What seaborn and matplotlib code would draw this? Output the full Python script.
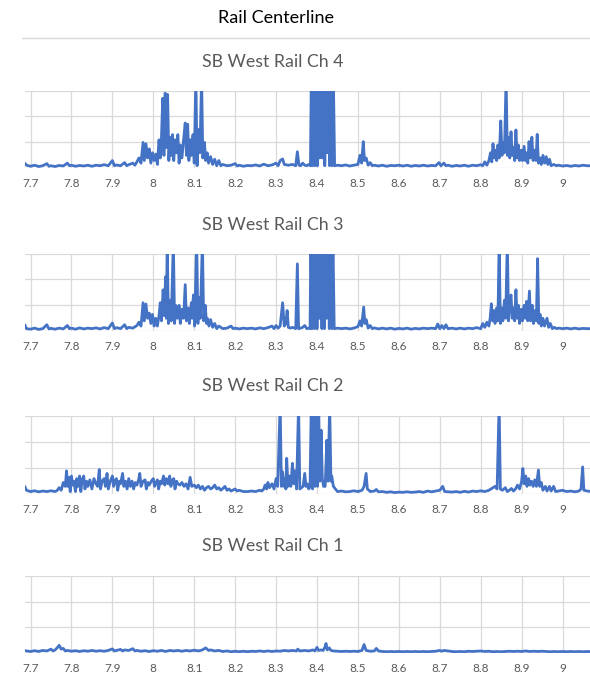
import matplotlib
matplotlib.use("Agg")
import matplotlib.pyplot as plt
import pandas as pd
import seaborn as sns
from matplotlib.lines import Line2D

sns.set_style("white")
plt.rcParams["font.family"] = ["Lato", "DejaVu Sans"]

LINE = "#4472C4"
GRID = "#D9D9D9"
GREY = "#595959"

chart_title = "Rail Centerline"
panel_titles = ["SB West Rail Ch 4", "SB West Rail Ch 3", "SB West Rail Ch 2", "SB West Rail Ch 1"]
tick_pos = [7.7, 7.8, 7.9, 8.0, 8.1, 8.2, 8.3, 8.4, 8.5, 8.6, 8.7, 8.8, 8.9, 9.0]
tick_labels = ["7.7", "7.8", "7.9", "8", "8.1", "8.2", "8.3", "8.4", "8.5", "8.6", "8.7", "8.8", "8.9", "9"]

# (milepost, reading) pairs; 3.5 = clipped above the axis top
ch4 = [
    (7.686, 0.2), (7.69, 0.12), (7.70, 0.08), (7.71, 0.12), (7.72, 0.07), (7.73, 0.1), (7.74, 0.18),
    (7.745, 0.08), (7.75, 0.1), (7.76, 0.07), (7.77, 0.11), (7.78, 0.09), (7.79, 0.2), (7.795, 0.1),
    (7.80, 0.12), (7.81, 0.08), (7.82, 0.11), (7.83, 0.09), (7.84, 0.12), (7.85, 0.08), (7.86, 0.12),
    (7.87, 0.1), (7.88, 0.14), (7.89, 0.1), (7.90, 0.3), (7.905, 0.1), (7.91, 0.13), (7.92, 0.1),
    (7.93, 0.22), (7.935, 0.1), (7.94, 0.14), (7.95, 0.2), (7.955, 0.12), (7.96, 0.25), (7.965, 0.4),
    (7.97, 0.2), (7.975, 1.0), (7.978, 0.3), (7.982, 0.95), (7.986, 0.4), (7.99, 0.75), (7.994, 0.2),
    (7.998, 0.6), (8.002, 0.3), (8.006, 0.55), (8.01, 0.15), (8.014, 1.1), (8.017, 0.4), (8.02, 1.2),
    (8.023, 2.7), (8.026, 0.5), (8.029, 2.9), (8.032, 0.8), (8.035, 2.85), (8.038, 0.3), (8.041, 1.2),
    (8.044, 0.5), (8.047, 1.3), (8.05, 0.3), (8.053, 1.1), (8.056, 0.6), (8.06, 1.3), (8.063, 0.2),
    (8.066, 0.9), (8.07, 0.4), (8.074, 1.1), (8.078, 1.75), (8.081, 0.5), (8.084, 1.7), (8.087, 0.3),
    (8.09, 1.1), (8.093, 0.5), (8.097, 1.3), (8.10, 0.2), (8.104, 3.5), (8.107, 0.1), (8.111, 1.5),
    (8.114, 0.6), (8.118, 3.5), (8.121, 0.4), (8.125, 1.0), (8.128, 0.3), (8.132, 0.6), (8.135, 0.2),
    (8.14, 0.45), (8.145, 0.15), (8.15, 0.35), (8.155, 0.1), (8.16, 0.3), (8.165, 0.1), (8.17, 0.15),
    (8.18, 0.1), (8.19, 0.12), (8.20, 0.18), (8.205, 0.09), (8.21, 0.12), (8.22, 0.08), (8.23, 0.11),
    (8.24, 0.1), (8.25, 0.13), (8.26, 0.09), (8.27, 0.16), (8.28, 0.1), (8.29, 0.13), (8.30, 0.2),
    (8.305, 0.1), (8.31, 0.3), (8.316, 0.36), (8.32, 0.15), (8.33, 0.12), (8.34, 0.15), (8.348, 0.1),
    (8.352, 0.64), (8.356, 0.12), (8.36, 0.1), (8.365, 0.2), (8.37, 0.12), (8.375, 0.1), (8.38, 0.15),
    (8.384, 0.1), (8.386, 3.5), (8.389, 0.1), (8.392, 3.5), (8.395, 0.1), (8.398, 3.5), (8.401, 0.1),
    (8.404, 3.5), (8.407, 0.4), (8.41, 3.5), (8.413, 0.4), (8.416, 3.5), (8.419, 0.1), (8.422, 3.5),
    (8.425, 0.6), (8.428, 3.5), (8.431, 0.1), (8.434, 3.5), (8.437, 0.1), (8.44, 3.5), (8.443, 0.1),
    (8.45, 0.12), (8.46, 0.1), (8.47, 0.13), (8.48, 0.09), (8.49, 0.12), (8.50, 0.15), (8.505, 0.5),
    (8.509, 0.2), (8.513, 1.03), (8.516, 0.3), (8.52, 0.4), (8.525, 0.12), (8.53, 0.22), (8.535, 0.1),
    (8.54, 0.12), (8.55, 0.09), (8.56, 0.12), (8.57, 0.08), (8.58, 0.11), (8.59, 0.1), (8.60, 0.12),
    (8.61, 0.09), (8.62, 0.12), (8.63, 0.08), (8.64, 0.11), (8.65, 0.09), (8.66, 0.12), (8.67, 0.09),
    (8.68, 0.11), (8.69, 0.1), (8.698, 0.22), (8.703, 0.1), (8.71, 0.2), (8.715, 0.1), (8.72, 0.12),
    (8.73, 0.08), (8.74, 0.11), (8.75, 0.09), (8.76, 0.12), (8.77, 0.08), (8.78, 0.12), (8.79, 0.1),
    (8.80, 0.14), (8.805, 0.1), (8.81, 0.25), (8.815, 0.12), (8.82, 0.3), (8.824, 0.6), (8.827, 0.25),
    (8.83, 0.95), (8.833, 0.4), (8.836, 0.7), (8.839, 0.3), (8.842, 0.9), (8.845, 0.4), (8.849, 1.83),
    (8.852, 0.5), (8.855, 1.0), (8.858, 0.6), (8.862, 3.5), (8.865, 0.5), (8.868, 1.2), (8.871, 0.4),
    (8.874, 1.41), (8.877, 0.5), (8.88, 0.8), (8.883, 0.3), (8.886, 1.48), (8.889, 0.4), (8.892, 0.9),
    (8.895, 0.3), (8.899, 0.7), (8.902, 0.3), (8.906, 0.85), (8.909, 0.3), (8.912, 0.6), (8.915, 0.2),
    (8.918, 1.03), (8.921, 0.4), (8.925, 1.2), (8.928, 0.3), (8.932, 0.7), (8.935, 0.3), (8.938, 1.31),
    (8.941, 0.2), (8.945, 0.4), (8.948, 0.15), (8.952, 0.5), (8.956, 0.2), (8.96, 0.45), (8.964, 0.15),
    (8.968, 0.35), (8.972, 0.1), (8.978, 0.15), (8.985, 0.1), (8.99, 0.12), (9.00, 0.09), (9.01, 0.11),
    (9.02, 0.08), (9.03, 0.11), (9.04, 0.09), (9.05, 0.12), (9.06, 0.1), (9.07, 0.1),
]

ch3 = [
    (7.686, 0.25), (7.69, 0.1), (7.70, 0.08), (7.71, 0.12), (7.72, 0.07), (7.73, 0.1), (7.74, 0.25),
    (7.745, 0.09), (7.75, 0.11), (7.76, 0.08), (7.77, 0.12), (7.78, 0.09), (7.79, 0.22), (7.795, 0.1),
    (7.80, 0.12), (7.81, 0.08), (7.82, 0.13), (7.83, 0.09), (7.84, 0.12), (7.85, 0.1), (7.86, 0.13),
    (7.87, 0.09), (7.88, 0.14), (7.89, 0.1), (7.90, 0.32), (7.905, 0.1), (7.91, 0.14), (7.92, 0.1),
    (7.93, 0.25), (7.935, 0.1), (7.94, 0.15), (7.95, 0.12), (7.96, 0.22), (7.965, 0.35), (7.97, 0.2),
    (7.975, 1.1), (7.978, 0.4), (7.982, 1.05), (7.986, 0.5), (7.99, 0.7), (7.994, 0.3), (7.998, 0.65),
    (8.002, 0.2), (8.006, 0.5), (8.01, 0.2), (8.014, 0.6), (8.017, 1.1), (8.02, 0.4), (8.024, 1.6),
    (8.027, 0.6), (8.03, 2.1), (8.032, 0.5), (8.034, 3.5), (8.037, 0.3), (8.04, 1.2), (8.044, 0.4),
    (8.049, 3.5), (8.052, 0.3), (8.055, 1.0), (8.059, 0.5), (8.063, 1.0), (8.066, 0.3), (8.07, 0.85),
    (8.074, 0.5), (8.078, 1.8), (8.081, 0.4), (8.085, 0.9), (8.088, 0.3), (8.093, 1.1), (8.095, 0.5),
    (8.098, 1.4), (8.101, 0.2), (8.106, 3.5), (8.109, 0.3), (8.112, 1.3), (8.115, 0.5), (8.12, 3.5),
    (8.123, 0.4), (8.127, 1.0), (8.13, 0.3), (8.132, 0.5), (8.136, 0.2), (8.14, 0.45), (8.145, 0.15),
    (8.15, 0.3), (8.155, 0.1), (8.16, 0.2), (8.17, 0.1), (8.18, 0.12), (8.19, 0.2), (8.195, 0.1),
    (8.20, 0.12), (8.21, 0.09), (8.22, 0.12), (8.23, 0.1), (8.24, 0.12), (8.25, 0.09), (8.26, 0.13),
    (8.27, 0.1), (8.28, 0.14), (8.29, 0.2), (8.295, 0.1), (8.30, 0.22), (8.305, 0.12), (8.31, 0.2),
    (8.316, 1.1), (8.32, 0.2), (8.324, 0.3), (8.327, 0.8), (8.33, 0.15), (8.335, 0.12), (8.34, 0.15),
    (8.348, 0.1), (8.352, 2.6), (8.355, 0.1), (8.36, 0.12), (8.365, 0.15), (8.37, 0.22), (8.375, 0.1),
    (8.38, 0.12), (8.383, 0.1), (8.385, 3.5), (8.388, 0.1), (8.391, 3.5), (8.394, 0.1), (8.397, 3.5),
    (8.40, 0.1), (8.403, 3.5), (8.406, 0.5), (8.409, 3.5), (8.412, 0.1), (8.415, 3.5), (8.418, 0.1),
    (8.421, 3.5), (8.424, 0.5), (8.427, 3.5), (8.43, 0.1), (8.433, 3.5), (8.436, 0.1), (8.439, 3.5),
    (8.442, 0.1), (8.45, 0.12), (8.46, 0.1), (8.47, 0.12), (8.48, 0.09), (8.49, 0.12), (8.50, 0.18),
    (8.505, 0.4), (8.509, 0.2), (8.514, 0.93), (8.517, 0.3), (8.52, 0.45), (8.525, 0.12), (8.53, 0.22),
    (8.535, 0.1), (8.54, 0.13), (8.55, 0.09), (8.56, 0.12), (8.57, 0.09), (8.58, 0.12), (8.59, 0.08),
    (8.60, 0.11), (8.61, 0.09), (8.62, 0.12), (8.63, 0.08), (8.64, 0.11), (8.65, 0.09), (8.66, 0.12),
    (8.67, 0.1), (8.68, 0.12), (8.69, 0.1), (8.695, 0.28), (8.70, 0.1), (8.705, 0.22), (8.71, 0.1),
    (8.715, 0.25), (8.72, 0.1), (8.73, 0.12), (8.74, 0.09), (8.75, 0.12), (8.76, 0.09), (8.77, 0.12),
    (8.78, 0.1), (8.79, 0.14), (8.80, 0.1), (8.805, 0.3), (8.81, 0.15), (8.815, 0.35), (8.82, 0.2),
    (8.823, 0.5), (8.826, 1.06), (8.829, 0.4), (8.832, 0.8), (8.835, 0.3), (8.839, 0.9), (8.842, 0.4),
    (8.845, 3.5), (8.848, 0.3), (8.851, 0.9), (8.854, 0.4), (8.858, 1.2), (8.861, 0.5), (8.865, 3.5),
    (8.868, 0.4), (8.871, 1.1), (8.874, 1.4), (8.877, 0.5), (8.88, 0.9), (8.883, 0.4), (8.886, 1.6),
    (8.889, 0.5), (8.892, 1.0), (8.895, 0.3), (8.899, 0.85), (8.902, 0.4), (8.906, 1.0), (8.909, 0.5),
    (8.912, 1.15), (8.915, 0.4), (8.919, 1.55), (8.922, 0.4), (8.926, 1.0), (8.929, 0.3), (8.933, 0.8),
    (8.936, 0.4), (8.939, 2.8), (8.942, 0.3), (8.945, 0.65), (8.948, 0.2), (8.952, 0.5), (8.956, 0.2),
    (8.962, 0.5), (8.966, 0.15), (8.97, 0.3), (8.975, 0.1), (8.98, 0.15), (8.985, 0.1), (8.99, 0.12),
    (9.00, 0.1), (9.01, 0.12), (9.02, 0.09), (9.03, 0.12), (9.04, 0.09), (9.05, 0.11), (9.06, 0.1),
    (9.07, 0.1),
]

ch2 = [
    (7.686, 0.3), (7.69, 0.15), (7.70, 0.1), (7.71, 0.13), (7.72, 0.09), (7.73, 0.12), (7.74, 0.1),
    (7.75, 0.13), (7.76, 0.1), (7.765, 0.14), (7.77, 0.25), (7.775, 0.15), (7.78, 0.45), (7.785, 0.3),
    (7.788, 0.9), (7.791, 0.3), (7.794, 0.65), (7.797, 0.1), (7.80, 0.7), (7.803, 0.35), (7.806, 0.5),
    (7.81, 0.1), (7.813, 0.6), (7.816, 0.3), (7.82, 0.7), (7.823, 0.1), (7.826, 0.55), (7.83, 0.7),
    (7.833, 0.2), (7.837, 0.5), (7.84, 0.3), (7.845, 0.55), (7.85, 0.2), (7.855, 0.6), (7.86, 0.4),
    (7.864, 0.3), (7.868, 0.95), (7.871, 0.2), (7.875, 0.5), (7.88, 0.6), (7.883, 0.3), (7.887, 0.8),
    (7.89, 0.2), (7.895, 0.5), (7.90, 0.7), (7.903, 0.3), (7.907, 0.55), (7.91, 0.6), (7.913, 0.15),
    (7.917, 0.5), (7.92, 0.4), (7.925, 0.8), (7.928, 0.3), (7.932, 0.5), (7.936, 0.2), (7.94, 0.6),
    (7.944, 0.3), (7.948, 0.5), (7.952, 0.2), (7.956, 0.45), (7.96, 0.35), (7.964, 0.55), (7.967, 0.8),
    (7.97, 0.3), (7.975, 0.5), (7.98, 0.55), (7.983, 0.2), (7.987, 0.45), (7.99, 0.35), (7.995, 0.5),
    (8.00, 0.6), (8.003, 0.3), (8.007, 0.45), (8.01, 0.55), (8.013, 0.2), (8.017, 0.5), (8.02, 0.4),
    (8.025, 0.7), (8.028, 0.35), (8.032, 0.6), (8.036, 0.4), (8.04, 0.7), (8.043, 0.3), (8.047, 0.55),
    (8.05, 0.6), (8.053, 0.2), (8.057, 0.5), (8.06, 0.4), (8.065, 0.35), (8.07, 0.45), (8.075, 0.3),
    (8.08, 0.4), (8.085, 0.2), (8.09, 0.65), (8.094, 0.3), (8.10, 0.35), (8.105, 0.25), (8.11, 0.35),
    (8.115, 0.2), (8.12, 0.3), (8.125, 0.15), (8.13, 0.25), (8.135, 0.3), (8.14, 0.2), (8.145, 0.25),
    (8.15, 0.35), (8.155, 0.2), (8.16, 0.25), (8.165, 0.15), (8.17, 0.22), (8.175, 0.3), (8.18, 0.15),
    (8.185, 0.2), (8.19, 0.12), (8.20, 0.2), (8.205, 0.12), (8.21, 0.15), (8.22, 0.1), (8.23, 0.1),
    (8.24, 0.12), (8.25, 0.1), (8.26, 0.15), (8.265, 0.12), (8.27, 0.2), (8.273, 0.35), (8.277, 0.2),
    (8.28, 0.45), (8.284, 0.25), (8.29, 0.4), (8.295, 0.2), (8.30, 0.6), (8.304, 0.3), (8.31, 3.5),
    (8.313, 0.3), (8.316, 0.86), (8.319, 0.3), (8.322, 0.6), (8.324, 0.2), (8.326, 1.38), (8.329, 0.3),
    (8.333, 0.7), (8.336, 0.3), (8.34, 1.19), (8.343, 0.4), (8.346, 0.9), (8.35, 0.2), (8.355, 3.5),
    (8.358, 0.2), (8.362, 0.25), (8.366, 0.3), (8.37, 0.8), (8.373, 0.3), (8.376, 0.4), (8.38, 0.2),
    (8.383, 0.3), (8.386, 3.5), (8.389, 0.2), (8.392, 3.5), (8.395, 0.3), (8.398, 3.5), (8.401, 0.3),
    (8.404, 3.5), (8.407, 0.5), (8.41, 2.47), (8.413, 0.6), (8.416, 0.3), (8.42, 0.3), (8.424, 2.08),
    (8.427, 0.5), (8.431, 3.5), (8.434, 0.5), (8.436, 0.7), (8.44, 0.3), (8.445, 0.2), (8.45, 0.1),
    (8.46, 0.12), (8.47, 0.09), (8.48, 0.1), (8.49, 0.13), (8.50, 0.1), (8.51, 0.15), (8.515, 0.3),
    (8.52, 0.8), (8.523, 0.2), (8.527, 0.15), (8.53, 0.1), (8.54, 0.12), (8.545, 0.18), (8.55, 0.09),
    (8.56, 0.1), (8.57, 0.07), (8.58, 0.09), (8.59, 0.06), (8.60, 0.08), (8.61, 0.07), (8.62, 0.09),
    (8.63, 0.07), (8.64, 0.08), (8.65, 0.1), (8.66, 0.07), (8.67, 0.12), (8.68, 0.09), (8.69, 0.12),
    (8.70, 0.15), (8.707, 0.3), (8.712, 0.1), (8.72, 0.09), (8.73, 0.08), (8.74, 0.1), (8.75, 0.07),
    (8.76, 0.11), (8.77, 0.08), (8.78, 0.12), (8.79, 0.1), (8.80, 0.13), (8.81, 0.1), (8.82, 0.15),
    (8.83, 0.25), (8.835, 0.3), (8.84, 0.2), (8.845, 3.5), (8.848, 0.2), (8.853, 0.15), (8.86, 0.25),
    (8.865, 0.1), (8.87, 0.15), (8.875, 0.22), (8.88, 0.12), (8.885, 0.2), (8.89, 0.35), (8.895, 0.2),
    (8.90, 0.5), (8.903, 0.99), (8.906, 0.4), (8.91, 0.7), (8.913, 0.3), (8.917, 0.6), (8.92, 0.35),
    (8.924, 0.5), (8.928, 0.3), (8.932, 0.55), (8.936, 0.3), (8.941, 0.93), (8.944, 0.3), (8.948, 0.45),
    (8.952, 0.15), (8.958, 0.3), (8.962, 0.12), (8.968, 0.3), (8.972, 0.12), (8.978, 0.3), (8.983, 0.1),
    (8.99, 0.12), (9.00, 0.15), (9.01, 0.1), (9.02, 0.12), (9.03, 0.09), (9.04, 0.12), (9.045, 0.2),
    (9.049, 1.05), (9.052, 0.15), (9.06, 0.12), (9.07, 0.1),
]

ch1 = [
    (7.686, 0.1), (7.69, 0.08), (7.70, 0.06), (7.71, 0.09), (7.72, 0.06), (7.73, 0.1), (7.74, 0.08),
    (7.75, 0.15), (7.755, 0.08), (7.76, 0.12), (7.765, 0.2), (7.77, 0.3), (7.775, 0.15), (7.78, 0.18),
    (7.785, 0.08), (7.79, 0.1), (7.80, 0.07), (7.81, 0.09), (7.82, 0.06), (7.83, 0.09), (7.84, 0.07),
    (7.85, 0.1), (7.86, 0.07), (7.87, 0.09), (7.88, 0.07), (7.89, 0.1), (7.90, 0.16), (7.905, 0.08),
    (7.91, 0.1), (7.92, 0.14), (7.925, 0.08), (7.93, 0.12), (7.94, 0.1), (7.95, 0.17), (7.955, 0.08),
    (7.96, 0.1), (7.97, 0.07), (7.98, 0.09), (7.99, 0.06), (8.00, 0.09), (8.01, 0.07), (8.02, 0.1),
    (8.03, 0.06), (8.04, 0.1), (8.05, 0.08), (8.06, 0.1), (8.07, 0.07), (8.08, 0.1), (8.09, 0.08),
    (8.10, 0.11), (8.11, 0.08), (8.12, 0.12), (8.128, 0.2), (8.135, 0.1), (8.14, 0.12), (8.15, 0.08),
    (8.16, 0.1), (8.17, 0.06), (8.18, 0.08), (8.19, 0.05), (8.20, 0.07), (8.21, 0.05), (8.22, 0.07),
    (8.23, 0.05), (8.24, 0.07), (8.25, 0.06), (8.26, 0.08), (8.27, 0.06), (8.28, 0.08), (8.29, 0.06),
    (8.30, 0.08), (8.31, 0.07), (8.32, 0.1), (8.33, 0.08), (8.34, 0.1), (8.35, 0.08), (8.353, 0.15),
    (8.358, 0.08), (8.37, 0.1), (8.38, 0.08), (8.39, 0.12), (8.395, 0.08), (8.40, 0.22), (8.404, 0.1),
    (8.41, 0.12), (8.415, 0.1), (8.42, 0.25), (8.422, 0.37), (8.425, 0.12), (8.43, 0.2), (8.434, 0.1),
    (8.44, 0.08), (8.45, 0.07), (8.46, 0.06), (8.47, 0.07), (8.48, 0.06), (8.49, 0.07), (8.50, 0.06),
    (8.51, 0.1), (8.515, 0.33), (8.52, 0.1), (8.53, 0.07), (8.54, 0.08), (8.545, 0.18), (8.55, 0.08),
    (8.56, 0.06), (8.57, 0.05), (8.58, 0.06), (8.59, 0.05), (8.60, 0.06), (8.61, 0.05), (8.62, 0.06),
    (8.63, 0.05), (8.64, 0.06), (8.65, 0.05), (8.66, 0.06), (8.67, 0.05), (8.68, 0.06), (8.69, 0.07),
    (8.70, 0.1), (8.705, 0.07), (8.71, 0.1), (8.72, 0.08), (8.73, 0.06), (8.74, 0.05), (8.75, 0.06),
    (8.76, 0.05), (8.77, 0.07), (8.78, 0.06), (8.79, 0.07), (8.80, 0.08), (8.81, 0.06), (8.82, 0.07),
    (8.83, 0.05), (8.84, 0.06), (8.85, 0.05), (8.86, 0.06), (8.87, 0.07), (8.88, 0.06), (8.89, 0.07),
    (8.90, 0.06), (8.91, 0.08), (8.92, 0.06), (8.93, 0.07), (8.94, 0.06), (8.95, 0.07), (8.96, 0.06),
    (8.97, 0.05), (8.98, 0.06), (8.99, 0.05), (9.00, 0.06), (9.01, 0.05), (9.02, 0.06), (9.03, 0.05),
    (9.04, 0.06), (9.05, 0.05), (9.06, 0.06), (9.07, 0.05),
]

channels = [ch4, ch3, ch2, ch1]

fig = plt.figure(figsize=(5.9, 6.76), dpi=100)

# panel boxes in figure fractions: (bottom, height)
boxes = [(0.751, 0.115), (0.510, 0.115), (0.269, 0.115), (0.034, 0.114)]
title_y = [0.908, 0.667, 0.429, 0.192]

for data, (bottom, height), name, ty in zip(channels, boxes, panel_titles, title_y):
    ax = fig.add_axes([0.042, bottom, 0.958, height])
    df = pd.DataFrame(data, columns=["milepost", "reading"])
    sns.lineplot(data=df, x="milepost", y="reading", ax=ax, color=LINE, linewidth=2.0,
                 sort=False, estimator=None)
    ax.set_xlim(7.686, 9.067)
    ax.set_ylim(0, 3)
    ax.set_xticks(tick_pos)
    ax.set_xticklabels(tick_labels)
    ax.set_yticks([0, 1, 2, 3])
    ax.set_yticklabels([])
    ax.grid(True, color=GRID, linewidth=0.9)
    ax.set_axisbelow(True)
    ax.tick_params(axis="both", length=0)
    ax.tick_params(axis="x", pad=7, labelsize=8.5, labelcolor=GREY)
    ax.set_xlabel("")
    ax.set_ylabel("")
    for s in ax.spines.values():
        s.set_visible(False)
    fig.text(0.463, ty, name, ha="center", va="center", fontsize=12.8, color=GREY)

fig.text(0.468, 0.973, chart_title, ha="center", va="center", fontsize=13, color="black")
fig.add_artist(Line2D([0.037, 1.0], [0.944, 0.944], transform=fig.transFigure, color=GRID, linewidth=1))

fig.savefig("out.png", dpi=100, facecolor="white")
